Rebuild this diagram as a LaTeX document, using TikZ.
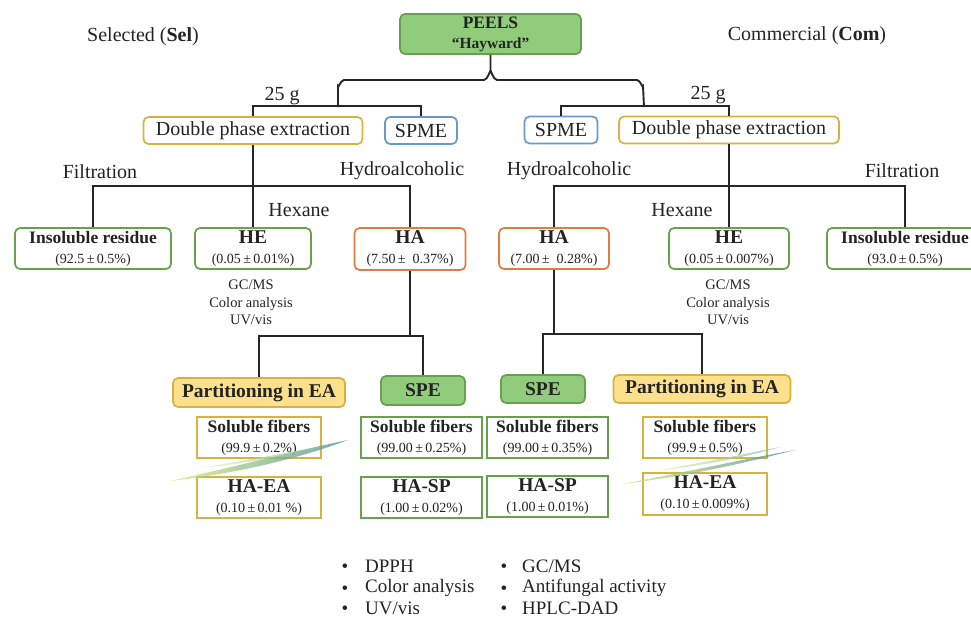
\documentclass[tikz,border=0pt]{standalone}
\usepackage{fontspec}
\setmainfont{Liberation Serif}
\definecolor{grn}{RGB}{104,160,78}
\definecolor{grnfill}{RGB}{145,204,124}
\definecolor{gold}{RGB}{214,178,64}
\definecolor{yelfill}{RGB}{252,224,140}
\definecolor{orng}{RGB}{226,124,62}
\definecolor{blu}{RGB}{104,152,204}
\definecolor{txt}{RGB}{35,35,35}
\definecolor{swA}{RGB}{214,232,120}
\definecolor{swB}{RGB}{120,190,140}
\definecolor{swC}{RGB}{70,140,160}
\tikzset{
  conn/.style={draw=black!85, line width=1.9pt},
  rbox/.style={draw, rounded corners=5pt, line width=1.7pt, fill=white, inner sep=0pt, align=center, text=txt, font=\fontsize{14}{20}\selectfont},
  sbox/.style={draw, line width=2pt, fill=white, inner sep=0pt, align=center, text=txt, font=\fontsize{14}{20}\selectfont},
  lbl/.style={inner sep=0pt, text=txt, font=\fontsize{20}{22}\selectfont},
  small/.style={inner sep=0pt, text=txt, align=center, font=\fontsize{14.5}{17.5}\selectfont},
}
\newcommand{\bt}[1]{{\fontsize{19.5}{21}\selectfont\bfseries #1}}
\newcommand{\bs}[1]{{\fontsize{17.5}{19}\selectfont\bfseries #1}}
\newcommand{\st}[1]{{\fontsize{14}{16}\selectfont #1}}
\begin{document}
\begin{tikzpicture}[x=1pt,y=-1pt]
\path[use as bounding box] (0,0) rectangle (971,619);
\clip (0,0) rectangle (971,619);

% top
\node[rbox, draw=grn, fill=grnfill, minimum width=181pt, minimum height=40pt] (peels) at (490.5,34)
  {\bs{PEELS}\\{\fontsize{15.5}{17}\selectfont\bfseries “Hayward”}};
\node[lbl] (sel) at (143,37) {Selected (\textbf{Sel})};
\node[lbl] (com) at (807,36) {Commercial (\textbf{Com})};

% level 1
\node[rbox, draw=gold, minimum width=219pt, minimum height=27pt, font=\fontsize{20}{22}\selectfont] (dpeL) at (253,130.5) {Double phase extraction};
\node[rbox, draw=blu, minimum width=72pt, minimum height=27pt, font=\fontsize{20}{22}\selectfont] (spmeL) at (421,130.5) {SPME};
\node[rbox, draw=blu, minimum width=73pt, minimum height=27pt, font=\fontsize{20}{22}\selectfont] (spmeR) at (561,130) {SPME};
\node[rbox, draw=gold, minimum width=220pt, minimum height=27pt, font=\fontsize{20}{22}\selectfont] (dpeR) at (729,130) {Double phase extraction};
\node[lbl] (gL) at (282,96) {25 g};
\node[lbl] (gR) at (708,95) {25 g};

% brace connectors
\draw[conn] (peels.south) -- (490.5,72) to[out=90,in=0] (484,80) -- (344,80) to[out=180,in=-90] (338,86) -- (338,107);
\draw[conn] (490.5,72) to[out=90,in=180] (497,80) -- (637,80) to[out=0,in=-90] (643,86) -- (644,107);
\draw[conn] (dpeL.north) -- ++(0,-10.5) -| (spmeL.north);
\draw[conn] (spmeR.north) -- ++(0,-10) -| (dpeR.north);

% level 2 labels
\node[lbl] (filL) at (100,172) {Filtration};
\node[lbl] (hydL) at (402,171) {Hydroalcoholic};
\node[lbl] (hexL) at (299,210) {Hexane};
\node[lbl] (hydR) at (569,171) {Hydroalcoholic};
\node[lbl] (filR) at (902,171) {Filtration};
\node[lbl] (hexR) at (682,210) {Hexane};

% level 2 boxes
\node[rbox, draw=grn, minimum width=156pt, minimum height=41pt] (insL) at (93,248.5)
  {\bs{Insoluble residue}\\\st{(92.5\,±\,0.5\%)}};
\node[rbox, draw=grn, minimum width=116pt, minimum height=41pt] (heL) at (253,248.5)
  {\bt{HE}\\\st{(0.05\,±\,0.01\%)}};
\node[rbox, draw=orng, minimum width=111pt, minimum height=42pt] (haL) at (410,249)
  {\bt{HA}\\\st{(7.50\,± \ 0.37\%)}};
\node[rbox, draw=orng, minimum width=110pt, minimum height=41pt] (haR) at (554,248.5)
  {\bt{HA}\\\st{(7.00\,± \ 0.28\%)}};
\node[rbox, draw=grn, minimum width=120pt, minimum height=41pt] (heR) at (729,248.5)
  {\bt{HE}\\\st{(0.05\,±\,0.007\%)}};
\node[rbox, draw=grn, minimum width=156pt, minimum height=41pt] (insR) at (905,248.5)
  {\bs{Insoluble residue}\\\st{(93.0\,±\,0.5\%)}};

\node[small] (anL) at (251,302.5) {GC/MS\\Color analysis\\UV/vis};
\node[small] (anR) at (728,302.5) {GC/MS\\Color analysis\\UV/vis};

\draw[conn] (dpeL.south) -- (heL.north);
\draw[conn] (insL.north) -- ++(0,-41) -| (haL.north);
\draw[conn] (dpeR.south) -- (heR.north);
\draw[conn] (haR.north) -- ++(0,-41) -| (insR.north);

% level 3
\node[rbox, draw=gold, fill=yelfill, minimum width=172pt, minimum height=29pt] (partL) at (259,392.5) {\bt{Partitioning in EA}};
\node[rbox, draw=grn, fill=grnfill, minimum width=84pt, minimum height=29pt] (speL) at (423,390.5) {\bt{SPE}};
\node[rbox, draw=grn, fill=grnfill, minimum width=84pt, minimum height=28pt] (speR) at (543,389) {\bt{SPE}};
\node[rbox, draw=gold, fill=yelfill, minimum width=177pt, minimum height=28pt] (partR) at (702,389) {\bt{Partitioning in EA}};

\draw[conn] (partL.north) -- ++(0,-41) -| (speL.north);
\draw[conn] (haL.south) -- (haL.south |- 0,337);
\draw[conn] (speR.north) -- ++(0,-40) -| (partR.north);
\draw[conn] (haR.south) -- (haR.south |- 0,335);

% level 4
\node[sbox, draw=gold, minimum width=124pt, minimum height=41pt] (sfL1) at (259,437.5)
  {\bs{Soluble fibers}\\\st{(99.9\,±\,0.2\%)}};
\node[sbox, draw=gold, minimum width=124pt, minimum height=41pt] (haeaL) at (259,497.5)
  {\bt{HA-EA}\\\st{(0.10\,±\,0.01 \%)}};
\node[sbox, draw=grn, minimum width=121pt, minimum height=41pt] (sfL2) at (421.5,437.5)
  {\bs{Soluble fibers}\\\st{(99.00\,±\,0.25\%)}};
\node[sbox, draw=grn, minimum width=121pt, minimum height=41pt] (haspL) at (421.5,497.5)
  {\bt{HA-SP}\\\st{(1.00\,±\,0.02\%)}};
\node[sbox, draw=grn, minimum width=121pt, minimum height=41pt] (sfR2) at (547.5,437.5)
  {\bs{Soluble fibers}\\\st{(99.00\,±\,0.35\%)}};
\node[sbox, draw=grn, minimum width=121pt, minimum height=41pt] (haspR) at (547.5,496.5)
  {\bt{HA-SP}\\\st{(1.00\,±\,0.01\%)}};
\node[sbox, draw=gold, minimum width=124pt, minimum height=41pt] (sfR1) at (705,437.5)
  {\bs{Soluble fibers}\\\st{(99.9\,±\,0.5\%)}};
\node[sbox, draw=gold, minimum width=124pt, minimum height=42pt] (haeaR) at (705,494)
  {\bt{HA-EA}\\\st{(0.10\,±\,0.009\%)}};

% decorative swooshes
\shade[left color=swA, right color=swC, opacity=0.75]
  (170,481) .. controls (230,468) and (290,452) .. (348,440) .. controls (300,458) and (240,473) .. (170,481) -- cycle;
\shade[left color=swA!60, right color=swB, opacity=0.7]
  (200,468) .. controls (250,460) and (300,450) .. (335,444) .. controls (290,455) and (250,463) .. (200,468) -- cycle;
\shade[left color=swA, right color=swC, opacity=0.75]
  (622,484) .. controls (690,471) and (750,458) .. (795,450) .. controls (748,462) and (690,476) .. (622,484) -- cycle;
\shade[left color=swA!60, right color=swB, opacity=0.7]
  (655,471) .. controls (700,463) and (750,453) .. (780,447) .. controls (742,458) and (700,466) .. (655,471) -- cycle;

% bottom bullets
\tikzset{blt/.style={inner sep=0pt, text=txt, font=\fontsize{19}{21}\selectfont}}
\foreach \y/\t [count=\i] in {566/DPPH, 588/{Color analysis}, 608/{UV/vis}}{
  \node[blt] (b1\i) at (345,\y+2) {•};
  \node[blt, anchor=west] (c1\i) at (365,\y) {\t};
}
\foreach \y/\t [count=\i] in {566/{GC/MS}, 588/{Antifungal activity}, 608/{HPLC-DAD}}{
  \node[blt] (b2\i) at (504,\y+2) {•};
  \node[blt, anchor=west] (c2\i) at (522,\y) {\t};
}
\end{tikzpicture}
\end{document}
